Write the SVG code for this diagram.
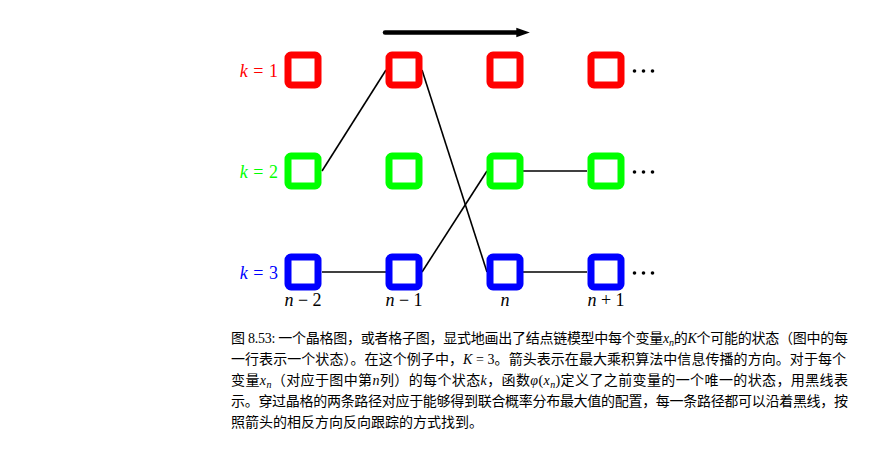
<svg xmlns="http://www.w3.org/2000/svg" width="881" height="454" viewBox="0 0 881 454">
<defs>
<style>
.box{fill:#fff;stroke-width:7;}
.r{stroke:#ff0000;} .g{stroke:#00ff00;} .b{stroke:#0000ff;}
.con{stroke:#000;stroke-width:1.6;fill:none;}
.math{font-family:"Liberation Serif",serif;font-size:18px;}
.cap{font-family:"Liberation Serif","Noto Sans CJK SC",serif;font-size:14px;fill:#000;}
.it{font-style:italic;}
</style>
<marker id="ah" viewBox="0 0 10 10" refX="2" refY="5" markerWidth="3" markerHeight="3" orient="auto" markerUnits="strokeWidth">
<path d="M0,1.5 L10,5 L0,8.5 z" fill="#000"/>
</marker>
<rect id="bx" x="-15" y="-15" width="30" height="30" rx="3"/>
</defs>
<rect width="881" height="454" fill="#fff"/>

<g id="arrow">
<line x1="385" y1="32.5" x2="519" y2="32.5" stroke="#000" stroke-width="4.5" stroke-linecap="round" marker-end="url(#ah)"/>
</g>

<g id="connectors">
<line class="con" x1="322" y1="171" x2="386" y2="70"/>
<line class="con" x1="422" y1="70" x2="487" y2="272"/>
<line class="con" x1="322" y1="272" x2="386" y2="272"/>
<line class="con" x1="422" y1="272" x2="487" y2="171"/>
<line class="con" x1="523" y1="171" x2="587" y2="171"/>
<line class="con" x1="523" y1="272" x2="587" y2="272"/>
</g>

<g id="n-r1"><use href="#bx" class="box r" x="303" y="70"/></g>
<g id="n-r2"><use href="#bx" class="box r" x="404" y="70"/></g>
<g id="n-r3"><use href="#bx" class="box r" x="505" y="70"/></g>
<g id="n-r4"><use href="#bx" class="box r" x="606" y="70"/></g>
<g id="n-g1"><use href="#bx" class="box g" x="303" y="171"/></g>
<g id="n-g2"><use href="#bx" class="box g" x="404" y="171"/></g>
<g id="n-g3"><use href="#bx" class="box g" x="505" y="171"/></g>
<g id="n-g4"><use href="#bx" class="box g" x="606" y="171"/></g>
<g id="n-b1"><use href="#bx" class="box b" x="303" y="272"/></g>
<g id="n-b2"><use href="#bx" class="box b" x="404" y="272"/></g>
<g id="n-b3"><use href="#bx" class="box b" x="505" y="272"/></g>
<g id="n-b4"><use href="#bx" class="box b" x="606" y="272"/></g>

<g id="dots" fill="#000">
<circle cx="634.5" cy="71" r="1.8"/><circle cx="643.5" cy="71" r="1.8"/><circle cx="652.5" cy="71" r="1.8"/>
<circle cx="634.5" cy="172" r="1.8"/><circle cx="643.5" cy="172" r="1.8"/><circle cx="652.5" cy="172" r="1.8"/>
<circle cx="634.5" cy="273" r="1.8"/><circle cx="643.5" cy="273" r="1.8"/><circle cx="652.5" cy="273" r="1.8"/>
</g>

<g id="row-labels" class="math" text-anchor="end">
<text x="278" y="77" fill="#ff0000"><tspan class="it">k</tspan> <tspan dx="1">=</tspan> <tspan dx="1">1</tspan></text>
<text x="278" y="178" fill="#00ff00"><tspan class="it">k</tspan> <tspan dx="1">=</tspan> <tspan dx="1">2</tspan></text>
<text x="278" y="279" fill="#0000ff"><tspan class="it">k</tspan> <tspan dx="1">=</tspan> <tspan dx="1">3</tspan></text>
</g>

<g id="col-labels" class="math" text-anchor="middle" fill="#000">
<text x="303" y="306"><tspan class="it">n</tspan> − 2</text>
<text x="404" y="306"><tspan class="it">n</tspan> − 1</text>
<text x="505" y="306"><tspan class="it">n</tspan></text>
<text x="606" y="306"><tspan class="it">n</tspan> + 1</text>
</g>

<g id="caption" class="cap">
<text x="231" y="343" textLength="617" lengthAdjust="spacing">图 8.53: 一个晶格图，或者格子图，显式地画出了结点链模型中每个变量<tspan class="it">x</tspan><tspan class="it" font-size="10" dy="3">n</tspan><tspan dy="-3">的</tspan><tspan class="it">K</tspan>个可能的状态（图中的每</text>
<text x="231" y="364" textLength="615" lengthAdjust="spacing">一行表示一个状态）。在这个例子中，<tspan class="it">K</tspan> = 3。箭头表示在最大乘积算法中信息传播的方向。对于每个</text>
<text x="231" y="385" textLength="617" lengthAdjust="spacing">变量<tspan class="it">x</tspan><tspan class="it" font-size="10" dy="3">n</tspan><tspan dy="-3">（对应于图中第</tspan><tspan class="it">n</tspan>列）的每个状态<tspan class="it">k</tspan>，函数<tspan class="it">φ</tspan>(<tspan class="it">x</tspan><tspan class="it" font-size="10" dy="3">n</tspan><tspan dy="-3">)定义了之前变量的一个唯一的状态，用黑线表</tspan></text>
<text x="231" y="406" textLength="617" lengthAdjust="spacing">示。穿过晶格的两条路径对应于能够得到联合概率分布最大值的配置，每一条路径都可以沿着黑线，按</text>
<text x="231" y="427">照箭头的相反方向反向跟踪的方式找到。</text>
</g>
</svg>
